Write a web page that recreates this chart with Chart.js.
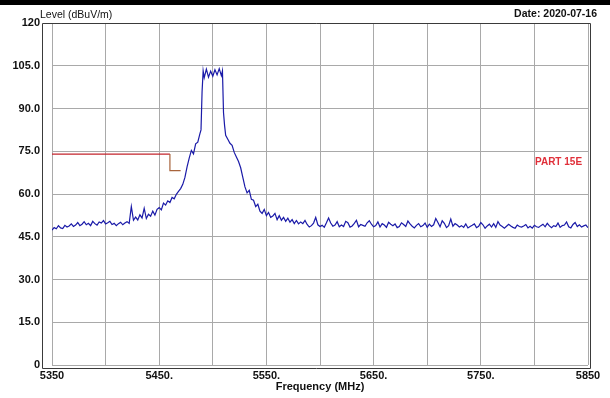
<!DOCTYPE html>
<html>
<head>
<meta charset="utf-8">
<script src="https://cdn.jsdelivr.net/npm/chart.js@4.4.1/dist/chart.umd.min.js"></script>
<style>
  body { margin: 0; background: #fff; }
  #wrap { width: 610px; height: 398px; }
</style>
</head>
<body>
<div id="wrap"><canvas id="scan" width="610" height="398"></canvas></div>
<script>
const freqs = [
  5350,5352,5354,5356,5358,5360,5362,5364,5366,5368,5370,5372,5374,5376,5378,5380,5382,5384,5386,5388,
  5390,5392,5394,5396,5398,5400,5402,5404,5406,5408,5410,5412,5414,5416,5418,5420,5422,5424,5426,5428,
  5430,5432,5434,5436,5438,5440,5442,5444,5446,5448,5450,5452,5454,5456,5458,5460,5462,5464,5466,5468,
  5470,5472,5474,5476,5478,5480,5482,5484,5486,5488,5489,5490,5491,5492,5494,5496,5498,5500,5502,5504,
  5506,5508,5509,5510,5511,5512,5514,5516,5518,5520,5522,5524,5526,5528,5530,5532,5534,5536,5538,5540,
  5542,5544,5546,5548,5550,5552,5554,5556,5558,5560,5562,5564,5566,5568,5570,5572,5574,5576,5578,5580,
  5582,5584,5586,5588,5590,5592,5594,5596,5598,5600,5602,5604,5606,5608,5610,5612,5614,5616,5618,5620,
  5622,5624,5626,5628,5630,5632,5634,5636,5638,5640,5642,5644,5646,5648,5650,5652,5654,5656,5658,5660,
  5662,5664,5666,5668,5670,5672,5674,5676,5678,5680,5682,5684,5686,5688,5690,5692,5694,5696,5698,5700,
  5702,5704,5706,5708,5710,5712,5714,5716,5718,5720,5722,5724,5726,5728,5730,5732,5734,5736,5738,5740,
  5742,5744,5746,5748,5750,5752,5754,5756,5758,5760,5762,5764,5766,5768,5770,5772,5774,5776,5778,5780,
  5782,5784,5786,5788,5790,5792,5794,5796,5798,5800,5802,5804,5806,5808,5810,5812,5814,5816,5818,5820,
  5822,5824,5826,5828,5830,5832,5834,5836,5838,5840,5842,5844,5846,5848,5850
];
const levels = [
  47.3,48.2,47.8,48.9,48.1,47.9,49.0,48.4,48.8,49.5,48.6,49.1,50.0,48.9,49.4,50.3,49.2,49.7,48.9,50.4,
  49.6,49.1,50.2,49.8,50.7,49.5,49.9,50.4,49.3,49.7,48.9,49.6,50.1,49.2,49.8,50.3,49.7,55.6,50.8,51.9,
  50.9,52.7,51.6,55.0,51.4,52.9,52.2,54.0,52.6,54.6,55.2,54.4,56.8,56.1,57.6,57.0,58.8,58.3,59.9,60.9,
  61.9,63.4,65.8,69.5,72.6,75.3,74.1,77.6,78.2,81.2,82.5,96.0,103.2,100.8,103.8,101.0,103.1,101.3,103.6,101.8,
  104.0,101.5,103.2,88.5,84.0,80.6,79.2,77.8,77.1,74.6,73.0,71.4,69.2,65.8,62.5,60.4,61.3,58.1,57.8,55.6,
  56.4,54.0,53.2,54.6,52.4,53.5,51.8,52.3,53.2,51.0,52.4,50.8,51.8,50.4,51.5,50.1,51.0,49.6,50.7,49.5,
  50.2,49.6,50.7,49.3,48.4,48.9,49.8,51.8,49.2,48.6,49.0,48.3,49.9,51.6,49.8,48.7,49.1,50.3,48.5,49.1,
  48.6,50.4,49.9,48.4,48.8,49.7,50.8,48.5,49.3,49.0,48.7,49.9,50.6,49.4,48.5,48.9,50.2,48.4,49.6,49.1,
  48.3,50.1,49.4,48.9,49.5,48.2,48.6,49.9,49.3,48.6,50.5,49.5,48.7,48.1,49.0,49.6,48.5,48.9,49.8,48.3,
  49.4,48.6,49.2,51.4,50.0,48.5,50.6,49.7,48.2,48.9,51.2,48.7,49.6,49.1,48.4,48.9,48.3,49.5,48.1,48.6,
  49.0,49.5,48.2,48.7,50.0,49.2,48.0,48.8,49.4,48.4,49.6,48.3,50.3,49.1,48.6,48.0,48.7,49.4,48.8,48.3,
  48.0,49.1,48.6,48.4,48.8,49.3,48.1,48.7,48.0,49.0,48.5,48.3,48.9,49.4,48.5,49.7,48.8,48.2,48.9,48.6,
  49.8,48.3,48.9,49.1,50.2,48.5,48.1,49.3,50.0,48.6,49.2,48.4,48.8,49.1,48.2
];

// FCC Part 15E limit line
const limitFreqs = [5350, 5460, 5460, 5470];
const limitLevels = [74, 74, 68.2, 68.2];

const yMin = 0, yMax = 120, yStep = 15;
const xMin = 5350, xMax = 5850, xStep = 50;

const traceColor = '#1a1aa8';
const limitRed = '#c3242c';
const limitBrown = '#a8643c';
const gridColor = '#a9a9a9';

const toPoints = (xs, ys) => xs.map((f, i) => ({x: f, y: ys[i]}));

const frame = {
  id: 'frame',
  beforeDraw(chart) {
    const c = chart.ctx;
    c.save();
    c.fillStyle = '#fff';
    c.fillRect(0, 0, chart.width, chart.height);
    c.fillStyle = '#000';
    c.fillRect(0, 0, chart.width, 5);
    c.restore();
  },
  afterDraw(chart) {
    const c = chart.ctx;
    const a = chart.chartArea;
    c.save();
    c.strokeStyle = '#3a3a3a';
    c.lineWidth = 1;
    c.beginPath();
    c.moveTo(a.left - 9.5, a.top + 0.5);
    c.lineTo(a.right + 2.5, a.top + 0.5);
    c.lineTo(a.right + 2.5, a.bottom + 3.5);
    c.lineTo(a.left - 9.5, a.bottom + 3.5);
    c.closePath();
    c.stroke();

    c.fillStyle = '#111';
    c.textBaseline = 'middle';
    c.font = '10.5px "Liberation Sans", Arial, sans-serif';
    c.textAlign = 'left';
    c.fillText('Level (dBuV/m)', 40, 15);
    c.font = 'bold 10.5px "Liberation Sans", Arial, sans-serif';
    c.textAlign = 'right';
    c.fillText('Date: 2020-07-16', 597, 14);

    c.fillStyle = '#e0303a';
    c.textAlign = 'left';
    c.font = 'bold 10px "Liberation Sans", Arial, sans-serif';
    c.fillText('PART 15E', 535, 162);
    c.restore();
  }
};

new Chart(document.getElementById('scan'), {
  type: 'line',
  data: {
    datasets: [
      {
        label: 'Level',
        data: toPoints(freqs, levels),
        borderColor: traceColor,
        borderWidth: 1.2,
        pointRadius: 0,
        tension: 0
      },
      {
        label: 'PART 15E',
        data: toPoints(limitFreqs, limitLevels),
        borderColor: limitRed,
        borderWidth: 1.2,
        pointRadius: 0,
        tension: 0,
        segment: {
          borderColor: ctx => ctx.p0DataIndex === 0 ? limitRed : limitBrown
        }
      }
    ]
  },
  options: {
    responsive: false,
    animation: false,
    events: [],
    layout: { padding: { top: 23, right: 22, left: 0, bottom: 0 } },
    plugins: {
      legend: { display: false },
      tooltip: { enabled: false }
    },
    scales: {
      x: {
        type: 'linear',
        min: xMin,
        max: xMax,
        afterFit: s => { s.height = 33; },
        grid: { color: gridColor, drawTicks: false },
        border: { display: false },
        ticks: {
          stepSize: xStep,
          autoSkip: false,
          maxRotation: 0,
          padding: 4,
          color: '#111',
          font: { family: '"Liberation Sans", Arial, sans-serif', size: 11, weight: 'bold' },
          callback: v => (v % 100 === 0) ? '' : (v === xMin || v === xMax ? String(v) : v + '.')
        },
        title: {
          display: true,
          text: 'Frequency (MHz)',
          color: '#111',
          font: { family: '"Liberation Sans", Arial, sans-serif', size: 11, weight: 'bold' },
          padding: { top: 0, bottom: 4 }
        }
      },
      y: {
        min: yMin,
        max: yMax,
        afterFit: s => { s.width = 52; },
        grid: { color: gridColor, drawTicks: false },
        border: { display: false },
        ticks: {
          stepSize: yStep,
          padding: 12,
          color: '#111',
          font: { family: '"Liberation Sans", Arial, sans-serif', size: 11, weight: 'bold' },
          callback: v => (v === yMin || v === yMax) ? String(v) : v.toFixed(1)
        }
      }
    }
  },
  plugins: [frame]
});
</script>
</body>
</html>
